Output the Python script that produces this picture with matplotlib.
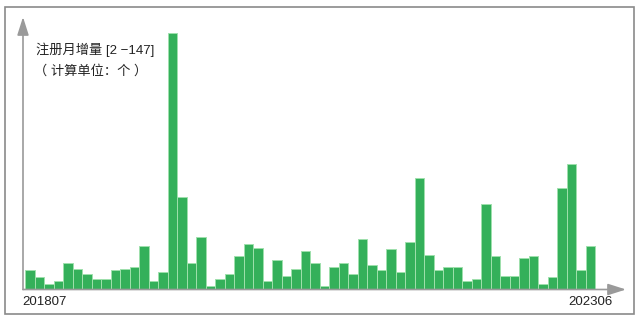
import matplotlib
matplotlib.use("Agg")
import matplotlib.pyplot as plt
from matplotlib.patches import Rectangle

plt.rcParams['font.family'] = ['Liberation Sans', 'Noto Sans CJK SC', 'DejaVu Sans']

# Data: monthly registration increments, 201807 .. 202306 (60 months)
months = [f"{y}{m:02d}" for y in range(2018, 2024) for m in range(1, 13)]
months = months[months.index("201807"):months.index("202306") + 1]
values = [11, 7, 3, 5, 15, 12, 9, 6, 6, 11, 12, 13, 25, 5, 10, 147, 53, 15, 30, 2,
          6, 9, 19, 26, 24, 5, 17, 8, 12, 22, 15, 2, 13, 15, 9, 29, 14, 11, 23, 10,
          27, 64, 20, 11, 13, 13, 5, 6, 49, 19, 8, 8, 18, 19, 3, 7, 58, 72, 11, 25]
title_line1 = "注册月增量 [2 −147]"
title_line2 = "（ 计算单位：个 ）"

W, H = 642, 322
fig = plt.figure(figsize=(W / 100, H / 100), dpi=100)

def fx(px):
    return px / W

def fy(py):
    return 1 - py / H

# outer frame
fig.patches.append(Rectangle((fx(5), fy(314)), fx(634) - fx(5), fy(7) - fy(314),
                             transform=fig.transFigure, fill=False,
                             edgecolor='#8a8a8a', linewidth=1.2))

ax_l, ax_r, ax_b, ax_t = 23, 626, 289.5, 17
ax = fig.add_axes([fx(ax_l), fy(ax_b), fx(ax_r) - fx(ax_l), fy(ax_t) - fy(ax_b)])
pitch = (595 - 25) / 60.0
x_left = -0.5 - (25 - ax_l) / pitch
x_right = x_left + (ax_r - ax_l) / pitch
ax.set_xlim(x_left, x_right)
scale = (289.5 - 33) / 147.0
ax.set_ylim(0, (ax_b - ax_t) / scale)
ax.axis('off')
ax.patch.set_alpha(0)

ax.bar(range(len(values)), values, width=1.0, color='#34b05a',
       edgecolor='#9fe0ac', linewidth=0.7, zorder=2)

arrow_kw = dict(arrowstyle='-|>,head_length=1.1,head_width=0.35',
                color='#9a9a9a', lw=1.2, shrinkA=0, shrinkB=0)
ax.annotate('', xy=(1, 0), xytext=(0, 0), xycoords='axes fraction',
            arrowprops=arrow_kw, zorder=3)
ax.annotate('', xy=(0, 1), xytext=(0, 0), xycoords='axes fraction',
            arrowprops=arrow_kw, zorder=3)

fig.text(fx(36), fy(50), title_line1, fontsize=9.5, color='#222222',
         ha='left', va='center')
fig.text(fx(34), fy(71), title_line2, fontsize=9.5, color='#222222',
         ha='left', va='center')
fig.text(fx(22), fy(302), months[0], fontsize=9.5, color='#222222',
         ha='left', va='center')
fig.text(fx(613), fy(302), months[-1], fontsize=9.5, color='#222222',
         ha='right', va='center')

fig.savefig('out.png', dpi=100)
